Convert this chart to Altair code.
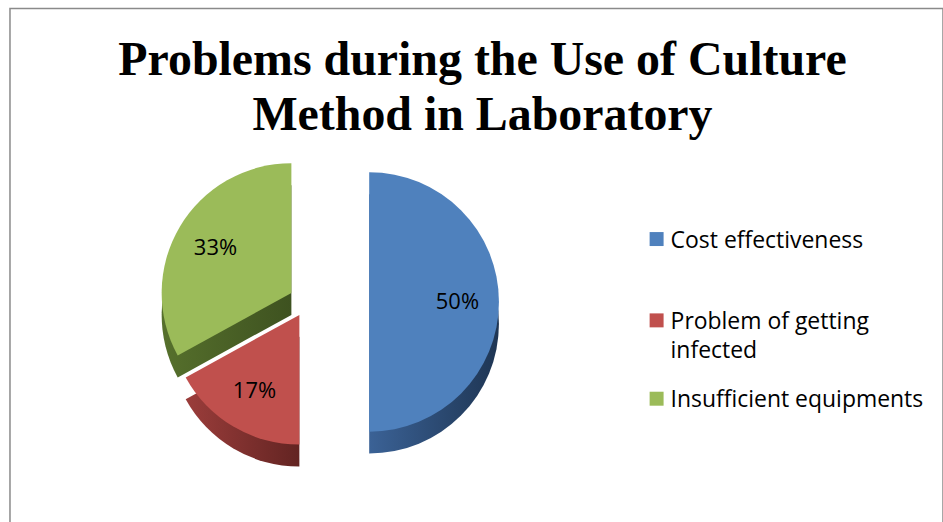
import altair as alt
import pandas as pd

# ---- data ----
title_lines = ["Problems during the Use of Culture", "Method in Laboratory"]
categories = ["Cost effectiveness", "Problem of getting infected", "Insufficient equipments"]
legend_line1 = ["Cost effectiveness", "Problem of getting", "Insufficient equipments"]
legend_line2 = ["", "infected", ""]
values = [50, 17, 33]
pct_labels = ["50%", "17%", "33%"]

# ---- styles ----
top_colors = ["#4F81BD", "#C0504D", "#9BBB59"]
side_colors = [("#3B6296", "#1E3553"), ("#9B3D3B", "#632422"), ("#56702C", "#3E5220")]

OX, OY = 10, 8          # view origin in page pixels
R = 130                 # pie radius
DEPTH = 22              # fake 3D depth
centers = [(370, 302), (300, 315), (292, 293)]   # exploded slice centres (page px)
legend_sq_y = [239, 320.5, 399]
LINE_GAP = 29

start = [sum(values[:i]) for i in range(len(values))]
df = pd.DataFrame({
    "idx": list(range(len(values))),
    "category": categories,
    "l1": legend_line1,
    "l2": legend_line2,
    "value": values,
    "label": pct_labels,
    "start": start,
    "end": [s + v for s, v in zip(start, values)],
})
df["mid"] = (df["start"] + df["end"]) / 2

tscale = alt.Scale(domain=[0, 100], range=[0, 6.283185307179586])
base = alt.Chart(df)

sides, tops, texts = [], [], []
for i, (cx, cy) in enumerate(centers):
    sel = base.transform_filter(alt.datum.idx == i)
    grad = alt.Gradient(
        gradient="linear", x1=0, y1=0, x2=1, y2=0,
        stops=[alt.GradientStop(color=side_colors[i][0], offset=0),
               alt.GradientStop(color=side_colors[i][1], offset=1)],
    )
    sides.append(sel.mark_arc(radius=R, color=grad).encode(
        theta=alt.Theta("start:Q", scale=tscale), theta2="end:Q",
        x=alt.value(cx - OX), y=alt.value(cy - OY + DEPTH)))
    tops.append(sel.mark_arc(radius=R, color=top_colors[i]).encode(
        theta=alt.Theta("start:Q", scale=tscale), theta2="end:Q",
        x=alt.value(cx - OX), y=alt.value(cy - OY)))
    texts.append(sel.mark_text(radius=R * 0.68, font="Open Sans", fontSize=22,
                               color="#000000").encode(
        theta=alt.Theta("mid:Q", scale=tscale), text="label:N",
        x=alt.value(cx - OX), y=alt.value(cy - OY)))

title = alt.Chart(pd.DataFrame({"t": ["\n".join(title_lines)]})).mark_text(
    font="Liberation Serif", fontWeight="bold", fontSize=48, lineHeight=55,
    align="center", baseline="alphabetic", lineBreak="\n", color="#000000",
).encode(text="t:N", x=alt.value(483.5 - OX), y=alt.value(75 - OY))

legend_layers = []
for i, ly in enumerate(legend_sq_y):
    sel = base.transform_filter(alt.datum.idx == i)
    legend_layers.append(sel.mark_square(size=196, color=top_colors[i], opacity=1).encode(
        x=alt.value(658 - OX), y=alt.value(ly - OY)))
    legend_layers.append(sel.mark_text(font="Open Sans", fontSize=23,
                                       align="left", baseline="alphabetic",
                                       color="#000000").encode(
        text="l1:N", x=alt.value(672 - OX), y=alt.value(ly + 8.5 - OY)))
    if legend_line2[i]:
        legend_layers.append(sel.mark_text(font="Open Sans", fontSize=23,
                                           align="left", baseline="alphabetic",
                                           color="#000000").encode(
            text="l2:N", x=alt.value(672 - OX), y=alt.value(ly + 8.5 + LINE_GAP - OY)))

chart = alt.layer(*sides, *tops, *texts, title, *legend_layers).properties(
    width=935, height=516,
    autosize=alt.AutoSizeParams(type="none"),
    padding={"left": OX, "top": OY, "right": 0, "bottom": 0},
    background="#ffffff",
).configure_view(stroke="#8a8a8a", strokeWidth=1.5)

chart.save("out.html", embed_options={"renderer": "svg", "actions": False})
